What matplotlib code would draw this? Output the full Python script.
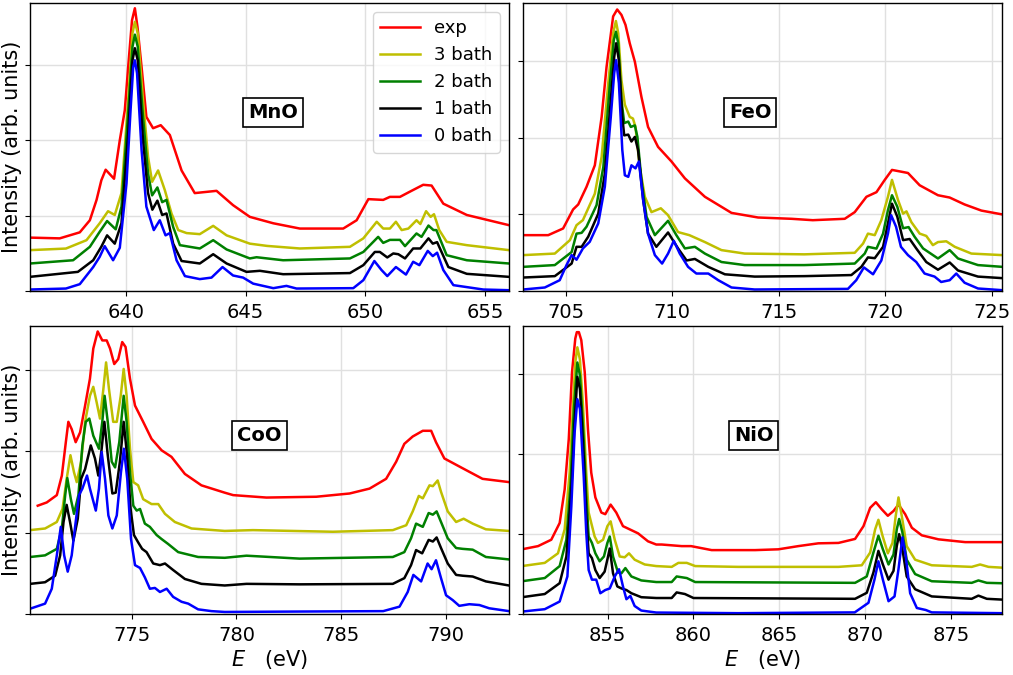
import matplotlib
matplotlib.use("Agg")
import matplotlib.pyplot as plt

# ---------------- data (energies in eV, intensities in arb. units) ----------------
labels = ["exp", "3 bath", "2 bath", "1 bath", "0 bath"]
colors = ["r", "y", "g", "k", "b"]

# MnO
mno_exp_E = [636.0, 637.24, 638.08, 638.5, 638.78, 638.98, 639.16, 639.51, 639.75, 639.96, 640.10, 640.26, 640.38, 640.49, 640.66, 640.86, 641.14, 641.46, 641.84, 642.33, 642.88, 643.79, 644.48, 645.18, 646.16, 647.27, 649.08, 649.64, 650.13, 650.75, 651.03, 651.45, 651.87, 652.42, 652.77, 653.26, 654.24, 656.0]
mno_exp_I = [0.71, 0.70, 0.78, 0.94, 1.21, 1.47, 1.61, 1.49, 2.0, 2.40, 2.97, 3.59, 3.75, 3.50, 2.97, 2.31, 2.16, 2.20, 2.07, 1.60, 1.30, 1.33, 1.14, 0.985, 0.90, 0.83, 0.83, 0.94, 1.22, 1.21, 1.25, 1.25, 1.32, 1.41, 1.40, 1.16, 1.01, 0.875]
mno_b3_E = [636.0, 637.5, 638.36, 638.91, 639.26, 639.54, 639.82, 640.10, 640.28, 640.38, 640.50, 640.72, 640.93, 641.10, 641.35, 641.63, 641.91, 642.19, 642.54, 643.09, 643.65, 644.21, 645.18, 645.9, 647.27, 649.36, 649.92, 650.48, 650.75, 651.03, 651.28, 651.52, 651.8, 652.14, 652.3, 652.54, 652.73, 652.87, 653.09, 653.40, 654.24, 656.0]
mno_b3_I = [0.544, 0.565, 0.676, 0.90, 1.06, 1.01, 1.30, 2.53, 3.42, 3.57, 3.42, 2.53, 1.78, 1.45, 1.60, 1.34, 1.03, 0.81, 0.77, 0.756, 0.866, 0.74, 0.63, 0.60, 0.566, 0.588, 0.70, 0.92, 0.83, 0.83, 0.92, 0.81, 0.83, 0.94, 0.89, 1.06, 0.985, 1.02, 0.81, 0.654, 0.61, 0.544]
mno_b2_E = [636.0, 637.8, 638.5, 638.91, 639.22, 639.58, 639.82, 640.10, 640.28, 640.38, 640.50, 640.72, 640.93, 641.10, 641.32, 641.52, 641.70, 641.98, 642.26, 643.09, 643.65, 644.21, 645.18, 645.46, 646.57, 649.36, 649.92, 650.54, 650.75, 651.03, 651.45, 651.66, 652.14, 652.35, 652.64, 652.85, 652.97, 653.40, 654.24, 656.0]
mno_b2_I = [0.367, 0.41, 0.588, 0.787, 0.93, 0.82, 1.12, 2.36, 3.24, 3.40, 3.24, 2.31, 1.56, 1.27, 1.375, 1.18, 1.21, 0.85, 0.61, 0.566, 0.676, 0.553, 0.434, 0.45, 0.41, 0.434, 0.52, 0.72, 0.64, 0.68, 0.68, 0.597, 0.765, 0.72, 0.87, 0.81, 0.81, 0.477, 0.41, 0.367]
mno_b1_E = [636.0, 638.0, 638.64, 638.98, 639.22, 639.54, 639.82, 640.10, 640.28, 640.38, 640.50, 640.72, 640.93, 641.11, 641.32, 641.52, 641.70, 641.98, 642.33, 643.09, 643.65, 644.21, 645.04, 645.60, 646.57, 649.36, 649.92, 650.40, 650.61, 650.92, 651.17, 651.38, 651.66, 652.0, 652.3, 652.64, 652.82, 653.0, 653.47, 654.24, 656.0]
mno_b1_I = [0.19, 0.256, 0.41, 0.59, 0.74, 0.63, 0.90, 2.09, 3.06, 3.22, 3.06, 2.0, 1.30, 1.08, 1.20, 1.01, 1.03, 0.63, 0.40, 0.367, 0.49, 0.367, 0.256, 0.27, 0.225, 0.24, 0.345, 0.52, 0.52, 0.447, 0.50, 0.49, 0.434, 0.566, 0.566, 0.70, 0.63, 0.65, 0.32, 0.23, 0.19]
mno_b0_E = [636.0, 637.5, 638.08, 638.64, 638.91, 639.12, 639.47, 639.75, 640.03, 640.2, 640.31, 640.38, 640.47, 640.66, 640.86, 641.17, 641.42, 641.66, 641.84, 642.12, 642.47, 643.09, 643.58, 644.04, 644.48, 644.9, 645.32, 646.16, 646.71, 647.13, 649.5, 649.92, 650.38, 650.68, 650.92, 651.28, 651.70, 652.0, 652.26, 652.61, 652.82, 653.0, 653.26, 653.68, 654.93, 656.0]
mno_b0_I = [0.022, 0.035, 0.093, 0.32, 0.455, 0.597, 0.41, 0.575, 1.43, 2.40, 2.97, 3.06, 2.89, 1.87, 1.12, 0.81, 0.94, 0.74, 0.77, 0.41, 0.20, 0.16, 0.18, 0.32, 0.208, 0.18, 0.10, 0.04, 0.07, 0.035, 0.04, 0.146, 0.40, 0.28, 0.20, 0.32, 0.22, 0.39, 0.345, 0.534, 0.465, 0.51, 0.28, 0.08, 0.022, 0.013]

# FeO
feo_exp_E = [703.0, 704.17, 704.87, 705.34, 705.58, 705.97, 706.36, 706.68, 706.91, 707.22, 707.41, 707.61, 707.80, 708.0, 708.24, 708.55, 708.86, 709.33, 709.96, 710.59, 711.53, 712.78, 714.03, 715.6, 716.6, 718.1, 718.57, 719.12, 719.59, 719.98, 720.32, 721.07, 721.62, 722.48, 723.03, 723.73, 724.52, 725.5]
feo_exp_I = [0.73, 0.73, 0.817, 1.065, 1.13, 1.36, 1.64, 2.27, 2.92, 3.58, 3.67, 3.60, 3.47, 3.23, 2.99, 2.53, 2.14, 1.88, 1.69, 1.47, 1.23, 1.02, 0.96, 0.943, 0.925, 0.943, 1.03, 1.23, 1.29, 1.45, 1.58, 1.54, 1.38, 1.25, 1.22, 1.13, 1.05, 1.0]
feo_b3_E = [703.0, 704.48, 705.19, 705.50, 705.8, 705.97, 706.36, 706.68, 706.99, 707.22, 707.35, 707.46, 707.61, 707.77, 708.0, 708.15, 708.27, 708.47, 708.71, 709.02, 709.46, 709.80, 710.27, 710.8, 711.53, 712.31, 713.4, 716.2, 718.57, 718.96, 719.19, 719.51, 719.82, 720.13, 720.32, 720.6, 720.84, 721.0, 721.23, 721.62, 721.93, 722.24, 722.48, 722.87, 723.27, 724.05, 725.5]
feo_b3_I = [0.47, 0.49, 0.665, 0.86, 0.926, 1.03, 1.27, 1.75, 2.71, 3.36, 3.52, 3.36, 2.75, 2.43, 2.27, 2.25, 2.14, 1.62, 1.23, 1.03, 1.08, 0.99, 0.77, 0.73, 0.64, 0.535, 0.49, 0.48, 0.50, 0.62, 0.75, 0.73, 0.926, 1.23, 1.45, 1.19, 1.01, 1.04, 0.90, 0.75, 0.72, 0.60, 0.64, 0.65, 0.578, 0.49, 0.47]
feo_b2_E = [703.0, 704.48, 705.27, 705.50, 705.74, 705.97, 706.44, 706.76, 707.07, 707.25, 707.35, 707.46, 707.61, 707.74, 707.93, 708.05, 708.24, 708.36, 708.55, 708.79, 709.18, 709.80, 710.19, 710.59, 711.06, 711.53, 712.31, 713.4, 716.2, 718.57, 719.04, 719.19, 719.59, 719.90, 720.13, 720.32, 720.57, 720.84, 721.1, 721.38, 721.78, 722.48, 723.03, 723.42, 724.36, 725.5]
feo_b2_I = [0.317, 0.34, 0.51, 0.75, 0.76, 0.84, 1.12, 1.62, 2.71, 3.27, 3.38, 3.23, 2.49, 2.19, 2.21, 2.14, 2.16, 2.01, 1.45, 0.97, 0.73, 0.917, 0.73, 0.557, 0.578, 0.49, 0.38, 0.34, 0.34, 0.36, 0.49, 0.578, 0.555, 0.75, 1.056, 1.25, 1.10, 0.82, 0.835, 0.71, 0.557, 0.426, 0.535, 0.426, 0.34, 0.317]
feo_b1_E = [703.0, 704.48, 705.27, 705.50, 705.74, 706.05, 706.52, 706.83, 707.11, 707.27, 707.36, 707.49, 707.65, 707.74, 707.93, 708.08, 708.24, 708.39, 708.63, 708.86, 709.25, 709.80, 710.27, 710.67, 711.06, 711.69, 712.47, 713.87, 716.2, 718.41, 718.88, 719.19, 719.51, 719.90, 720.13, 720.32, 720.57, 720.84, 721.15, 721.46, 721.93, 722.48, 723.03, 723.42, 724.36, 725.5]
feo_b1_I = [0.178, 0.196, 0.36, 0.578, 0.578, 0.71, 1.01, 1.53, 2.49, 3.05, 3.23, 3.01, 2.27, 2.03, 2.04, 1.95, 2.01, 1.84, 1.19, 0.75, 0.578, 0.765, 0.557, 0.40, 0.42, 0.317, 0.22, 0.19, 0.196, 0.21, 0.317, 0.44, 0.43, 0.578, 0.883, 1.14, 0.97, 0.665, 0.68, 0.557, 0.38, 0.28, 0.374, 0.27, 0.19, 0.17]
feo_b0_E = [703.0, 704.01, 704.71, 705.03, 705.27, 705.50, 705.80, 706.12, 706.52, 706.83, 707.11, 707.27, 707.36, 707.49, 707.65, 707.77, 707.93, 708.08, 708.27, 708.43, 708.63, 708.86, 709.18, 709.52, 709.80, 710.07, 710.35, 710.74, 711.13, 711.69, 712.16, 712.78, 713.87, 718.25, 718.64, 719.0, 719.43, 719.82, 720.13, 720.28, 720.51, 720.74, 721.07, 721.46, 721.85, 722.32, 722.63, 723.03, 723.34, 723.73, 724.36, 725.5]
feo_b0_I = [0.022, 0.048, 0.143, 0.34, 0.47, 0.41, 0.557, 0.643, 0.883, 1.36, 2.27, 2.84, 3.01, 2.71, 1.84, 1.51, 1.49, 1.64, 1.60, 1.69, 1.19, 0.75, 0.47, 0.36, 0.49, 0.656, 0.49, 0.317, 0.23, 0.23, 0.143, 0.048, 0.022, 0.03, 0.143, 0.31, 0.22, 0.40, 0.75, 0.99, 0.84, 0.578, 0.47, 0.38, 0.23, 0.19, 0.12, 0.143, 0.23, 0.11, 0.035, 0.013]

# CoO
coo_exp_E = [770.52, 770.95, 771.43, 771.67, 771.86, 771.98, 772.14, 772.33, 772.54, 772.78, 773.01, 773.17, 773.38, 773.60, 773.81, 773.97, 774.17, 774.36, 774.55, 774.71, 774.92, 775.16, 775.55, 775.95, 776.43, 776.90, 777.54, 778.33, 779.44, 779.84, 781.43, 783.81, 785.4, 786.35, 787.14, 787.62, 788.01, 788.41, 788.89, 789.29, 789.52, 789.92, 790.79, 791.74, 793.0]
coo_exp_I = [1.33, 1.37, 1.46, 1.70, 2.11, 2.36, 2.27, 2.11, 2.23, 2.56, 2.89, 3.26, 3.47, 3.36, 3.36, 3.26, 3.07, 3.13, 3.34, 3.28, 2.89, 2.56, 2.36, 2.15, 2.01, 1.93, 1.72, 1.58, 1.49, 1.46, 1.43, 1.44, 1.48, 1.54, 1.66, 1.87, 2.09, 2.18, 2.25, 2.25, 2.11, 1.91, 1.79, 1.66, 1.62]
coo_b3_E = [770.16, 770.87, 771.43, 771.70, 771.90, 772.08, 772.25, 772.38, 772.59, 772.78, 773.01, 773.17, 773.33, 773.49, 773.65, 773.78, 773.92, 774.12, 774.29, 774.48, 774.62, 774.76, 774.92, 775.08, 775.31, 775.55, 775.95, 776.27, 776.59, 777.06, 777.86, 779.44, 780.79, 784.6, 787.46, 788.1, 788.41, 788.70, 788.89, 789.21, 789.37, 789.60, 789.76, 790.08, 790.48, 790.84, 791.27, 791.9, 793.0]
coo_b3_I = [1.03, 1.05, 1.13, 1.29, 1.66, 1.95, 1.74, 1.62, 1.87, 2.36, 2.68, 2.79, 2.60, 2.40, 2.76, 3.09, 2.76, 2.36, 2.36, 2.68, 3.01, 2.68, 2.03, 1.62, 1.58, 1.41, 1.35, 1.35, 1.23, 1.13, 1.05, 1.02, 1.03, 1.01, 1.03, 1.09, 1.26, 1.45, 1.42, 1.58, 1.57, 1.64, 1.50, 1.26, 1.13, 1.17, 1.11, 1.04, 1.02]
coo_b2_E = [770.16, 770.87, 771.43, 771.67, 771.83, 771.93, 772.10, 772.25, 772.46, 772.65, 772.81, 772.98, 773.17, 773.44, 773.60, 773.71, 773.86, 774.05, 774.21, 774.41, 774.62, 774.76, 774.92, 775.08, 775.24, 775.4, 775.63, 775.87, 776.19, 776.43, 776.74, 777.22, 778.17, 779.44, 780.48, 783.01, 787.46, 788.01, 788.33, 788.57, 788.89, 789.17, 789.37, 789.55, 789.76, 790.08, 790.48, 790.79, 791.27, 791.9, 793.0]
coo_b2_I = [0.70, 0.72, 0.80, 1.05, 1.46, 1.67, 1.41, 1.23, 1.46, 2.07, 2.36, 2.40, 2.19, 2.03, 2.36, 2.68, 2.36, 1.87, 1.80, 2.11, 2.68, 2.36, 1.74, 1.33, 1.27, 1.29, 1.11, 1.07, 0.97, 0.92, 0.86, 0.76, 0.70, 0.69, 0.716, 0.68, 0.70, 0.76, 0.93, 1.11, 1.07, 1.24, 1.22, 1.26, 1.13, 0.93, 0.81, 0.80, 0.79, 0.70, 0.67]
coo_b1_E = [770.16, 770.87, 771.35, 771.59, 771.75, 771.90, 772.06, 772.22, 772.43, 772.59, 772.78, 773.05, 773.25, 773.41, 773.57, 773.70, 773.86, 774.08, 774.24, 774.44, 774.62, 774.78, 774.95, 775.11, 775.31, 775.50, 775.71, 776.03, 776.35, 776.59, 776.98, 777.54, 778.33, 779.44, 780.48, 783.01, 787.46, 788.01, 788.33, 788.57, 788.86, 789.17, 789.37, 789.55, 789.76, 790.08, 790.48, 790.79, 791.27, 791.9, 793.0]
coo_b1_I = [0.37, 0.39, 0.47, 0.72, 1.13, 1.34, 1.13, 0.90, 1.17, 1.66, 1.78, 2.07, 1.91, 1.70, 2.03, 2.36, 1.95, 1.48, 1.49, 1.87, 2.36, 1.95, 1.29, 0.97, 0.88, 0.80, 0.76, 0.62, 0.60, 0.62, 0.54, 0.43, 0.37, 0.35, 0.37, 0.364, 0.37, 0.44, 0.60, 0.785, 0.745, 0.91, 0.89, 0.94, 0.81, 0.62, 0.48, 0.47, 0.46, 0.40, 0.35]
coo_b0_E = [770.16, 770.87, 771.19, 771.43, 771.62, 771.78, 771.95, 772.14, 772.33, 772.49, 772.65, 772.87, 773.01, 773.29, 773.44, 773.57, 773.73, 773.89, 774.08, 774.29, 774.49, 774.63, 774.79, 774.97, 775.16, 775.40, 775.63, 775.87, 776.11, 776.35, 776.67, 776.98, 777.38, 777.70, 778.17, 778.81, 779.44, 783.01, 787.0, 787.78, 788.17, 788.44, 788.81, 789.12, 789.31, 789.52, 789.76, 790.0, 790.32, 790.63, 791.11, 791.59, 792.06, 793.0]
coo_b0_I = [0.065, 0.127, 0.31, 0.72, 1.07, 0.72, 0.52, 0.72, 1.13, 1.46, 1.54, 1.70, 1.54, 1.27, 1.54, 1.99, 1.66, 1.21, 1.05, 1.21, 1.74, 2.03, 1.66, 0.92, 0.60, 0.565, 0.45, 0.31, 0.32, 0.27, 0.31, 0.21, 0.15, 0.127, 0.057, 0.035, 0.025, 0.03, 0.035, 0.09, 0.27, 0.48, 0.40, 0.62, 0.55, 0.66, 0.44, 0.23, 0.17, 0.10, 0.12, 0.11, 0.07, 0.035]

# NiO
nio_exp_E = [850.0, 850.94, 851.71, 852.20, 852.49, 852.73, 852.92, 853.11, 853.20, 853.32, 853.46, 853.66, 853.85, 854.04, 854.28, 854.63, 854.86, 855.17, 855.50, 855.89, 856.38, 856.77, 857.35, 857.83, 858.15, 859.31, 859.86, 861.06, 863.59, 864.95, 866.11, 867.28, 868.45, 869.42, 869.91, 870.30, 870.63, 870.98, 871.33, 871.66, 871.95, 872.34, 872.73, 873.31, 874.28, 875.84, 878.0]
nio_exp_I = [0.81, 0.85, 0.93, 1.14, 1.56, 2.19, 3.03, 3.45, 3.53, 3.53, 3.43, 3.03, 2.31, 1.77, 1.46, 1.27, 1.25, 1.37, 1.27, 1.10, 1.05, 1.01, 0.91, 0.87, 0.87, 0.85, 0.85, 0.80, 0.80, 0.81, 0.85, 0.885, 0.89, 0.94, 1.10, 1.33, 1.40, 1.31, 1.23, 1.29, 1.37, 1.25, 1.08, 0.985, 0.935, 0.90, 0.90]
nio_b3_E = [850.0, 851.33, 852.1, 852.49, 852.78, 852.98, 853.11, 853.23, 853.38, 853.56, 853.75, 853.89, 854.04, 854.24, 854.43, 854.73, 854.98, 855.17, 855.41, 855.70, 855.99, 856.24, 856.57, 857.16, 857.83, 858.73, 859.12, 859.61, 860.1, 862.6, 868.45, 869.81, 870.30, 870.59, 870.78, 871.02, 871.33, 871.60, 871.79, 871.95, 872.14, 872.43, 872.92, 873.89, 876.22, 876.71, 877.2, 878.0]
nio_b3_I = [0.60, 0.64, 0.76, 1.06, 1.77, 2.61, 3.15, 3.34, 3.19, 2.61, 1.77, 1.27, 1.14, 0.97, 0.89, 0.93, 1.10, 1.16, 0.93, 0.72, 0.71, 0.76, 0.68, 0.62, 0.60, 0.59, 0.64, 0.64, 0.60, 0.59, 0.59, 0.61, 0.77, 1.06, 1.18, 0.98, 0.76, 0.89, 1.23, 1.46, 1.23, 0.85, 0.68, 0.61, 0.59, 0.62, 0.59, 0.58]
nio_b2_E = [850.0, 851.33, 852.20, 852.59, 852.84, 853.03, 853.23, 853.38, 853.60, 853.75, 853.89, 854.08, 854.28, 854.53, 854.78, 854.98, 855.12, 855.31, 855.60, 855.80, 856.03, 856.38, 856.96, 857.83, 858.73, 859.02, 859.61, 860.1, 869.42, 870.1, 870.49, 870.78, 871.04, 871.37, 871.66, 871.85, 871.99, 872.18, 872.43, 872.92, 873.89, 876.22, 876.61, 877.1, 878.0]
nio_b2_I = [0.41, 0.45, 0.60, 0.93, 1.64, 2.57, 3.15, 2.99, 2.19, 1.48, 0.97, 0.89, 0.76, 0.66, 0.72, 0.89, 0.97, 0.72, 0.52, 0.51, 0.575, 0.47, 0.42, 0.40, 0.40, 0.47, 0.45, 0.40, 0.39, 0.47, 0.77, 0.98, 0.81, 0.62, 0.745, 1.06, 1.19, 1.02, 0.68, 0.50, 0.41, 0.39, 0.42, 0.39, 0.385]
nio_b1_E = [850.0, 851.33, 852.2, 852.59, 852.88, 853.07, 853.23, 853.38, 853.60, 853.75, 853.89, 854.08, 854.28, 854.53, 854.82, 855.02, 855.12, 855.31, 855.56, 855.80, 856.09, 856.38, 856.96, 857.83, 858.73, 859.02, 859.5, 860.0, 869.42, 870.1, 870.49, 870.78, 871.04, 871.37, 871.66, 871.85, 871.99, 872.18, 872.43, 872.92, 873.89, 876.22, 876.61, 877.1, 878.0]
nio_b1_I = [0.21, 0.25, 0.386, 0.72, 1.56, 2.40, 2.97, 2.82, 1.98, 1.23, 0.76, 0.70, 0.55, 0.45, 0.53, 0.72, 0.82, 0.51, 0.345, 0.32, 0.30, 0.26, 0.21, 0.20, 0.20, 0.27, 0.25, 0.20, 0.19, 0.265, 0.52, 0.79, 0.62, 0.43, 0.54, 0.85, 1.0, 0.81, 0.47, 0.31, 0.22, 0.19, 0.23, 0.19, 0.18]
nio_b0_E = [850.0, 851.33, 852.2, 852.65, 852.88, 853.07, 853.23, 853.38, 853.60, 853.75, 853.89, 854.08, 854.33, 854.57, 854.86, 855.12, 855.41, 855.66, 855.89, 856.09, 856.32, 856.57, 856.96, 857.83, 862.6, 869.4, 870.2, 870.55, 870.78, 871.04, 871.37, 871.72, 871.95, 872.18, 872.37, 872.63, 873.02, 873.54, 873.89, 878.0]
nio_b0_I = [0.03, 0.06, 0.156, 0.47, 1.35, 2.27, 2.69, 2.57, 1.73, 1.02, 0.55, 0.43, 0.43, 0.26, 0.30, 0.32, 0.47, 0.56, 0.345, 0.185, 0.226, 0.10, 0.043, 0.018, 0.01, 0.02, 0.14, 0.43, 0.66, 0.43, 0.16, 0.22, 0.56, 0.96, 0.73, 0.26, 0.075, 0.05, 0.02, 0.01]

panel_names = ["MnO", "FeO", "CoO", "NiO"]
xlims = [(636.0, 656.0), (703.0, 725.5), (770.15, 793.0), (850.08, 878.0)]
ylims = [(0.0, 3.82), (0.0, 3.755), (0.0, 3.54), (0.0, 3.61)]
xticks = [[640, 645, 650, 655], [705, 710, 715, 720, 725],
          [775, 780, 785, 790], [855, 860, 865, 870, 875]]
yticks = [0, 1, 2, 3]
label_pos = [(0.507, 0.62), (0.474, 0.62), (0.479, 0.62), (0.481, 0.62)]

curves = [
    [(mno_exp_E, mno_exp_I), (mno_b3_E, mno_b3_I), (mno_b2_E, mno_b2_I), (mno_b1_E, mno_b1_I), (mno_b0_E, mno_b0_I)],
    [(feo_exp_E, feo_exp_I), (feo_b3_E, feo_b3_I), (feo_b2_E, feo_b2_I), (feo_b1_E, feo_b1_I), (feo_b0_E, feo_b0_I)],
    [(coo_exp_E, coo_exp_I), (coo_b3_E, coo_b3_I), (coo_b2_E, coo_b2_I), (coo_b1_E, coo_b1_I), (coo_b0_E, coo_b0_I)],
    [(nio_exp_E, nio_exp_I), (nio_b3_E, nio_b3_I), (nio_b2_E, nio_b2_I), (nio_b1_E, nio_b1_I), (nio_b0_E, nio_b0_I)],
]

# ---------------- figure ----------------
plt.rcParams['font.family'] = ['DejaVu Sans']
fig, axes = plt.subplots(2, 2, figsize=(10.13, 6.75), dpi=100)
fig.subplots_adjust(left=0.0296, right=0.9894, top=0.9956, bottom=0.0904,
                    wspace=0.030, hspace=0.12)

for k, ax in enumerate(axes.flat):
    for (E, I), c, lab in zip(curves[k], colors, labels):
        ax.plot(E, I, color=c, lw=1.8, label=lab, solid_joinstyle='round')
    ax.set_xlim(*xlims[k])
    ax.set_ylim(*ylims[k])
    ax.set_xticks(xticks[k])
    ax.set_yticks(yticks)
    ax.tick_params(labelleft=False, labelsize=14, direction='out', pad=5)
    ax.grid(True, color='#e0e0e0', lw=1.0)
    ax.set_axisbelow(True)
    for s in ax.spines.values():
        s.set_color('black')
        s.set_linewidth(1.0)
    ax.text(label_pos[k][0], label_pos[k][1], panel_names[k], transform=ax.transAxes,
            ha='center', va='center', fontsize=14, fontweight='bold',
            bbox=dict(boxstyle='square,pad=0.25', fc='white', ec='black', lw=1.2))
    if k % 2 == 0:
        ax.set_ylabel("Intensity (arb. units)", fontsize=15, labelpad=2)
    if k >= 2:
        ax.set_xlabel(r"$E$   (eV)", fontsize=15, labelpad=2)

axes[0, 0].legend(loc='upper right', fontsize=13, handlelength=2.2)

fig.savefig("out.png", dpi=100)
